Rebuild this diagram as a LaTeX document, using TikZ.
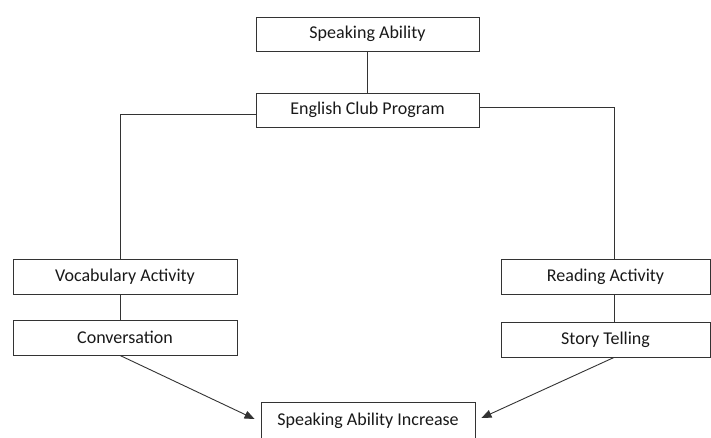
\documentclass[tikz,border=0pt]{standalone}
\usepackage{fontspec}
\setmainfont{Carlito}
\usetikzlibrary{arrows.meta}
\begin{document}
\begin{tikzpicture}[x=1pt,y=-1pt,
  box/.style={draw=black!80, line width=0.9pt, rectangle, inner sep=0pt,
    font=\fontsize{18}{20}\selectfont, text=black!90},
  conn/.style={draw=black!80, line width=0.9pt},
  arr/.style={conn, -{Triangle[length=10pt,width=8pt]}}]
\clip (0,0) rectangle (711,438);
\fill[white] (0,0) rectangle (711,438);
\node[box, minimum width=223pt, minimum height=34pt] (sa) at (367.5,34) {Speaking Ability};
\node[box, minimum width=223pt, minimum height=34pt] (ecp) at (367.5,110) {English Club Program};
\node[box, minimum width=224pt, minimum height=35pt] (voc) at (125,276.5) {Vocabulary Activity};
\node[box, minimum width=224pt, minimum height=35pt] (conv) at (125,337.5) {Conversation};
\node[box, minimum width=209pt, minimum height=35pt] (read) at (605.5,276.5) {Reading Activity};
\node[box, minimum width=209pt, minimum height=35pt] (story) at (605.5,339.5) {Story Telling};
\node[box, minimum width=214pt, minimum height=38pt] (sai) at (368,421) {Speaking Ability Increase};
\draw[conn] (sa) -- (ecp);
\draw[conn] ([yshift=-4pt]ecp.west) -| ([xshift=-5pt]voc.north);
\draw[conn] ([xshift=-5pt]voc.south) -- ([xshift=-5pt]conv.north);
\draw[conn] ([yshift=3pt]ecp.east) -| ([xshift=8.5pt]read.north);
\draw[conn] ([xshift=8.5pt]read.south) -- ([xshift=8.5pt]story.north);
\draw[arr] ([xshift=-5pt]conv.south) -- ([xshift=-6pt,yshift=2pt]sai.west);
\draw[arr] ([xshift=8.5pt]story.south) -- ([xshift=6pt,yshift=3pt]sai.east);
\end{tikzpicture}
\end{document}
